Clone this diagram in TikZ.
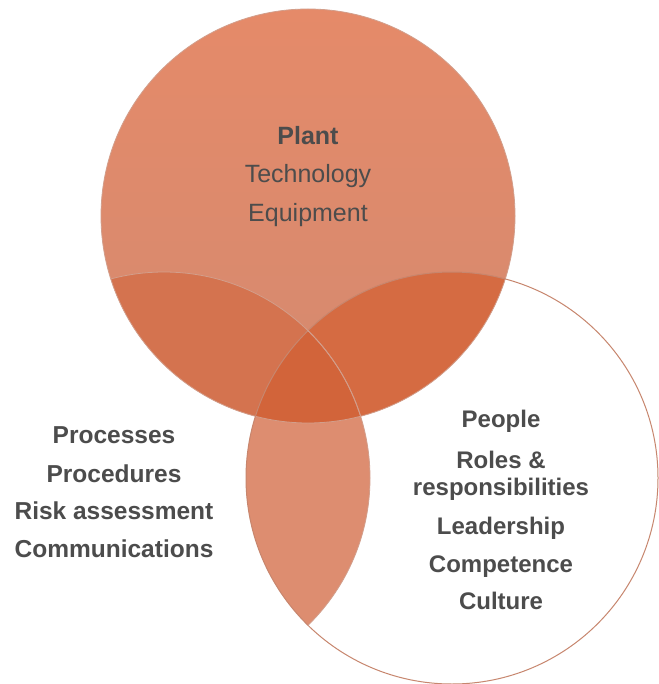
\documentclass[tikz,border=0pt]{standalone}
\usepackage{fontspec}
\setmainfont{Liberation Sans}
\begin{document}
\begin{tikzpicture}[x=1pt,y=-1pt,
  txt/.style={text=black!70, anchor=base, inner sep=0pt, font=\fontsize{25}{25}\selectfont},
  btxt/.style={txt, font=\fontsize{24.5}{25}\bfseries\selectfont},
  rtxt/.style={txt, font=\fontsize{24}{25}\bfseries\selectfont},
  ]
\definecolor{plantTop}{HTML}{E58A69}
\definecolor{plantBot}{HTML}{D48A70}
\definecolor{lensTL}{HTML}{D4734F}
\definecolor{lensTR}{HTML}{D56B42}
\definecolor{lensC}{HTML}{D2643A}
\definecolor{lensB}{HTML}{DD8D70}
\definecolor{rimc}{HTML}{C7866E}
\useasboundingbox (0,0) rectangle (658,684);
\fill[white] (0,0) rectangle (658,684);
\coordinate (cT) at (308,216);
\coordinate (cL) at (164,478);
\coordinate (cR) at (452,478);
% top circle
\shade[top color=plantTop, bottom color=plantBot] (cT) circle (207);
% lens top-left
\begin{scope}
  \clip (cL) circle (206);
  \fill[lensTL] (cT) circle (207);
\end{scope}
% lens top-right
\begin{scope}
  \clip (cR) circle (206);
  \fill[lensTR] (cT) circle (207);
\end{scope}
% lens bottom
\begin{scope}
  \clip (cL) circle (206);
  \fill[lensB] (cR) circle (206);
\end{scope}
% centre
\begin{scope}
  \clip (cL) circle (206);
  \clip (cR) circle (206);
  \fill[lensC] (cT) circle (207);
\end{scope}
% rims
\draw[rimc!80, line width=0.8] (cT) circle (207);
\draw[rimc, line width=1] (cR) circle (206);
\begin{scope}
  \clip (cT) circle (207);
  \draw[rimc!80, line width=0.8] (cL) circle (206);
\end{scope}
\begin{scope}
  \clip (cR) circle (206);
  \draw[rimc!80, line width=0.8] (cL) circle (206);
\end{scope}
% top texts
\node[txt, font=\fontsize{25}{25}\bfseries\selectfont] (plant) at (308,145) {Plant};
\node[txt] (tech) at (308,183) {Technology};
\node[txt] (equip) at (308,222) {Equipment};
% left texts
\node[btxt] (proc) at (114,443) {Processes};
\node[btxt] (procd) at (114,482) {Procedures};
\node[btxt] (risk) at (114,519) {Risk assessment};
\node[btxt] (comm) at (114,557) {Communications};
% right texts
\node[rtxt] (people) at (501,427) {People};
\node[rtxt] (roles) at (501,468) {Roles \&};
\node[rtxt] (resp) at (501,495) {responsibilities};
\node[rtxt] (lead) at (501,534) {Leadership};
\node[rtxt] (comp) at (501,572) {Competence};
\node[rtxt] (cult) at (501,609) {Culture};
\end{tikzpicture}
\end{document}
